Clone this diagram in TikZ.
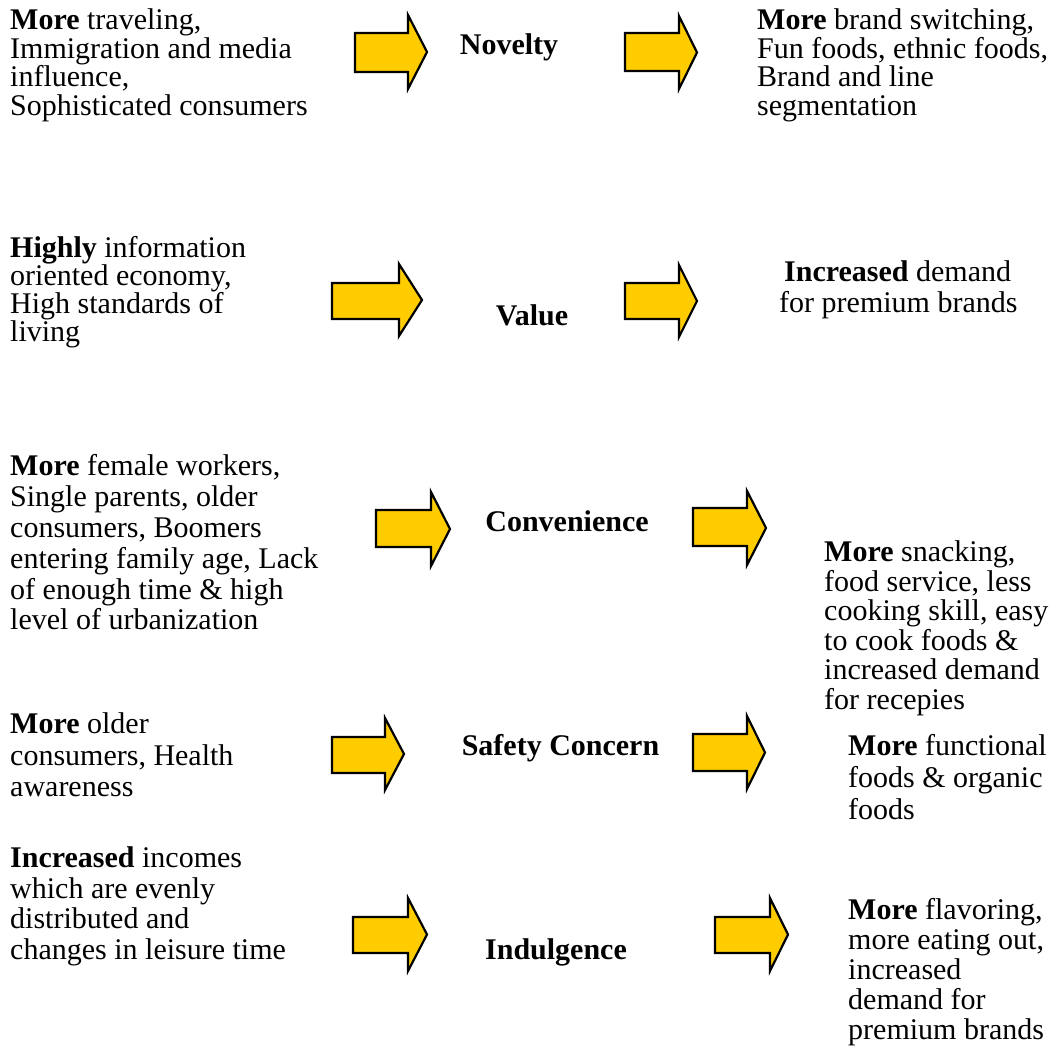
\documentclass[tikz,border=0pt]{standalone}
\usepackage{fontspec}
\setmainfont{Liberation Serif}
\definecolor{arrowyellow}{HTML}{FFCC00}
\tikzset{
  arrowbody/.style={fill=arrowyellow, draw=black, line width=2.2pt, line join=miter},
  txt/.style={anchor=north west, inner sep=0pt, align=left},
  factor/.style={anchor=base, inner sep=0pt, font=\fontsize{30}{30}\selectfont\bfseries},
}
% block arrow: name, left x, head start x, tip x, head top, shaft top, shaft bottom, head bottom
\newcommand{\fatarrow}[8]{%
  \draw[arrowbody] (#2,#6) -- (#3,#6) -- (#3,#5) -- (#4,{(#5+#8)/2}) -- (#3,#8) -- (#3,#7) -- (#2,#7) -- cycle
    node[coordinate] (#1) at (#4,{(#5+#8)/2}) {};}
\begin{document}
\begin{tikzpicture}[x=1pt, y=-1pt]
\useasboundingbox (0,0) rectangle (1052,1059);

% Row 1: Novelty
\node[txt, font=\fontsize{30}{28.5}\selectfont] (n1l) at (10,8.5)
  {\textbf{More} traveling,\\Immigration and media\\influence,\\Sophisticated consumers};
\fatarrow{a1l}{355}{408}{427}{15}{33}{72}{89}
\node[factor] (f1) at (509,55) {Novelty};
\fatarrow{a1r}{625}{679}{697}{16}{33}{71}{89}
\node[txt, font=\fontsize{30}{28.5}\selectfont] (n1r) at (757,8.5)
  {\textbf{More} brand switching,\\Fun foods, ethnic foods,\\Brand and line\\segmentation};

% Row 2: Value
\node[txt, font=\fontsize{30}{27.5}\selectfont] (n2l) at (10,236.5)
  {\textbf{Highly} information\\oriented economy,\\High standards of\\living};
\fatarrow{a2l}{332}{399}{422}{264}{283}{319}{336}
\node[factor] (f2) at (532,325) {Value};
\fatarrow{a2r}{625}{679}{697}{265}{283}{319}{337}
\node[txt, font=\fontsize{30}{31}\selectfont] (n2r) at (779,260.5)
  {\,\textbf{Increased} demand\\for premium brands};

% Row 3: Convenience
\node[txt, font=\fontsize{30}{30.8}\selectfont] (n3l) at (10,454.5)
  {\textbf{More} female workers,\\Single parents, older\\consumers, Boomers\\entering family age, Lack\\of enough time \& high\\level of urbanization};
\fatarrow{a3l}{376}{431}{450}{492}{510}{547}{566}
\node[factor] (f3) at (567,531) {Convenience};
\fatarrow{a3r}{693}{747}{766}{491}{508}{546}{565}
\node[txt, font=\fontsize{30}{29.6}\selectfont] (n3r) at (824,540.5)
  {\textbf{More} snacking,\\food service, less\\cooking skill, easy\\to cook foods \&\\increased demand\\for recepies};

% Row 4: Safety Concern
\node[txt, font=\fontsize{30}{31.5}\selectfont] (n4l) at (10,712.5)
  {\textbf{More} older\\consumers, Health\\awareness};
\fatarrow{a4l}{332}{385}{404}{718}{737}{773}{790}
\node[factor] (f4) at (560.5,755) {Safety Concern};
\fatarrow{a4r}{693}{747}{765}{716}{734}{771}{789}
\node[txt, font=\fontsize{30}{32}\selectfont] (n4r) at (848,734.5)
  {\textbf{More} functional\\foods \& organic\\foods};

% Row 5: Indulgence
\node[txt, font=\fontsize{30}{30.5}\selectfont] (n5l) at (10,846.5)
  {\textbf{Increased} incomes\\which are evenly\\distributed and\\changes in leisure time};
\fatarrow{a5l}{353}{408}{427}{898}{917}{953}{971}
\node[factor] (f5) at (556,959) {Indulgence};
\fatarrow{a5r}{715}{770}{788}{898}{917}{953}{971}
\node[txt, font=\fontsize{30}{30}\selectfont] (n5r) at (848,898.5)
  {\textbf{More} flavoring,\\more eating out,\\increased\\demand for\\premium brands};
\end{tikzpicture}
\end{document}
